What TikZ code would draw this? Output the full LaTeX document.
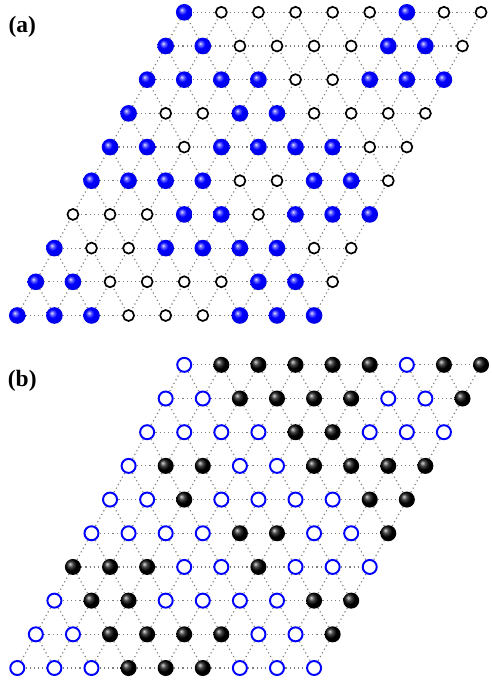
\documentclass[tikz,border=0pt]{standalone}
\usepackage{tikz}
\usepackage{fontspec}
\setmainfont{Liberation Serif}
\pgfdeclareradialshading{bluesphere}{\pgfpoint{-8bp}{8bp}}{color(0bp)=(blue!8!white); color(5bp)=(blue!55!white); color(13bp)=(blue); color(28bp)=(blue!88!black); color(40bp)=(blue!65!black); color(50bp)=(blue!65!black)}

\begin{document}
\begin{tikzpicture}[scale=1,
  bond/.style={gray,line width=0.9pt,dash pattern=on 0.9pt off 2.3pt},
  panellabel/.style={font=\bfseries\fontsize{18}{20}\selectfont},
  bluefull/.style={shading=bluesphere},
  blackfull/.style={ball color=black},
  blackopen/.style={draw=black,line width=1.3pt,fill=white},
  blueopen/.style={draw=blue,line width=1.5pt,fill=white}]
\useasboundingbox (0,0) rectangle (13.235,18.437);
\node[panellabel] (la) at (0.60,17.71) {(a)};
\node[panellabel] (lb) at (0.60,8.17) {(b)};
% lattice sites of both panels
\foreach \p/\y in {a/9.933,b/0.431}
  \foreach \j in {0,...,9}
    \foreach \i in {0,...,8}
      \coordinate (\p-\i-\j) at ({0.466+\i+0.5*\j},{\y+0.908*\j});
% nearest-neighbour bonds
\foreach \p in {a,b} {
  \foreach \j in {0,...,9}
    \foreach \i [count=\k] in {0,...,7}
      \draw[bond] (\p-\i-\j) -- (\p-\k-\j);
  \foreach \j [count=\m] in {0,...,8} {
    \foreach \i in {0,...,8}
      \draw[bond] (\p-\i-\j) -- (\p-\i-\m);
    \foreach \i [count=\k] in {0,...,7}
      \draw[bond] (\p-\k-\j) -- (\p-\i-\m);
  }
}
% occupation, bottom row first; (b) is the complement of (a)
\foreach \row [count=\j from 0] in {
    {1,1,1,0,0,0,1,1,1},
    {1,1,0,0,0,0,1,1,0},
    {1,0,0,1,1,1,1,0,0},
    {0,0,0,1,1,0,1,1,1},
    {1,1,1,1,0,0,1,1,0},
    {1,1,0,1,1,1,1,0,0},
    {1,0,0,1,1,0,0,0,0},
    {1,1,1,1,0,0,1,1,1},
    {1,1,0,0,0,0,1,1,0},
    {1,0,0,0,0,0,1,0,0}}
  \foreach \s [count=\i from 0] in \row {
    \ifnum\s=1
      \shade[bluefull] (a-\i-\j) circle (0.224);
      \draw[blueopen] (b-\i-\j) circle (0.189);
    \else
      \draw[blackopen] (a-\i-\j) circle (0.148);
      \shade[blackfull] (b-\i-\j) circle (0.216);
    \fi
  }
\end{tikzpicture}
\end{document}
